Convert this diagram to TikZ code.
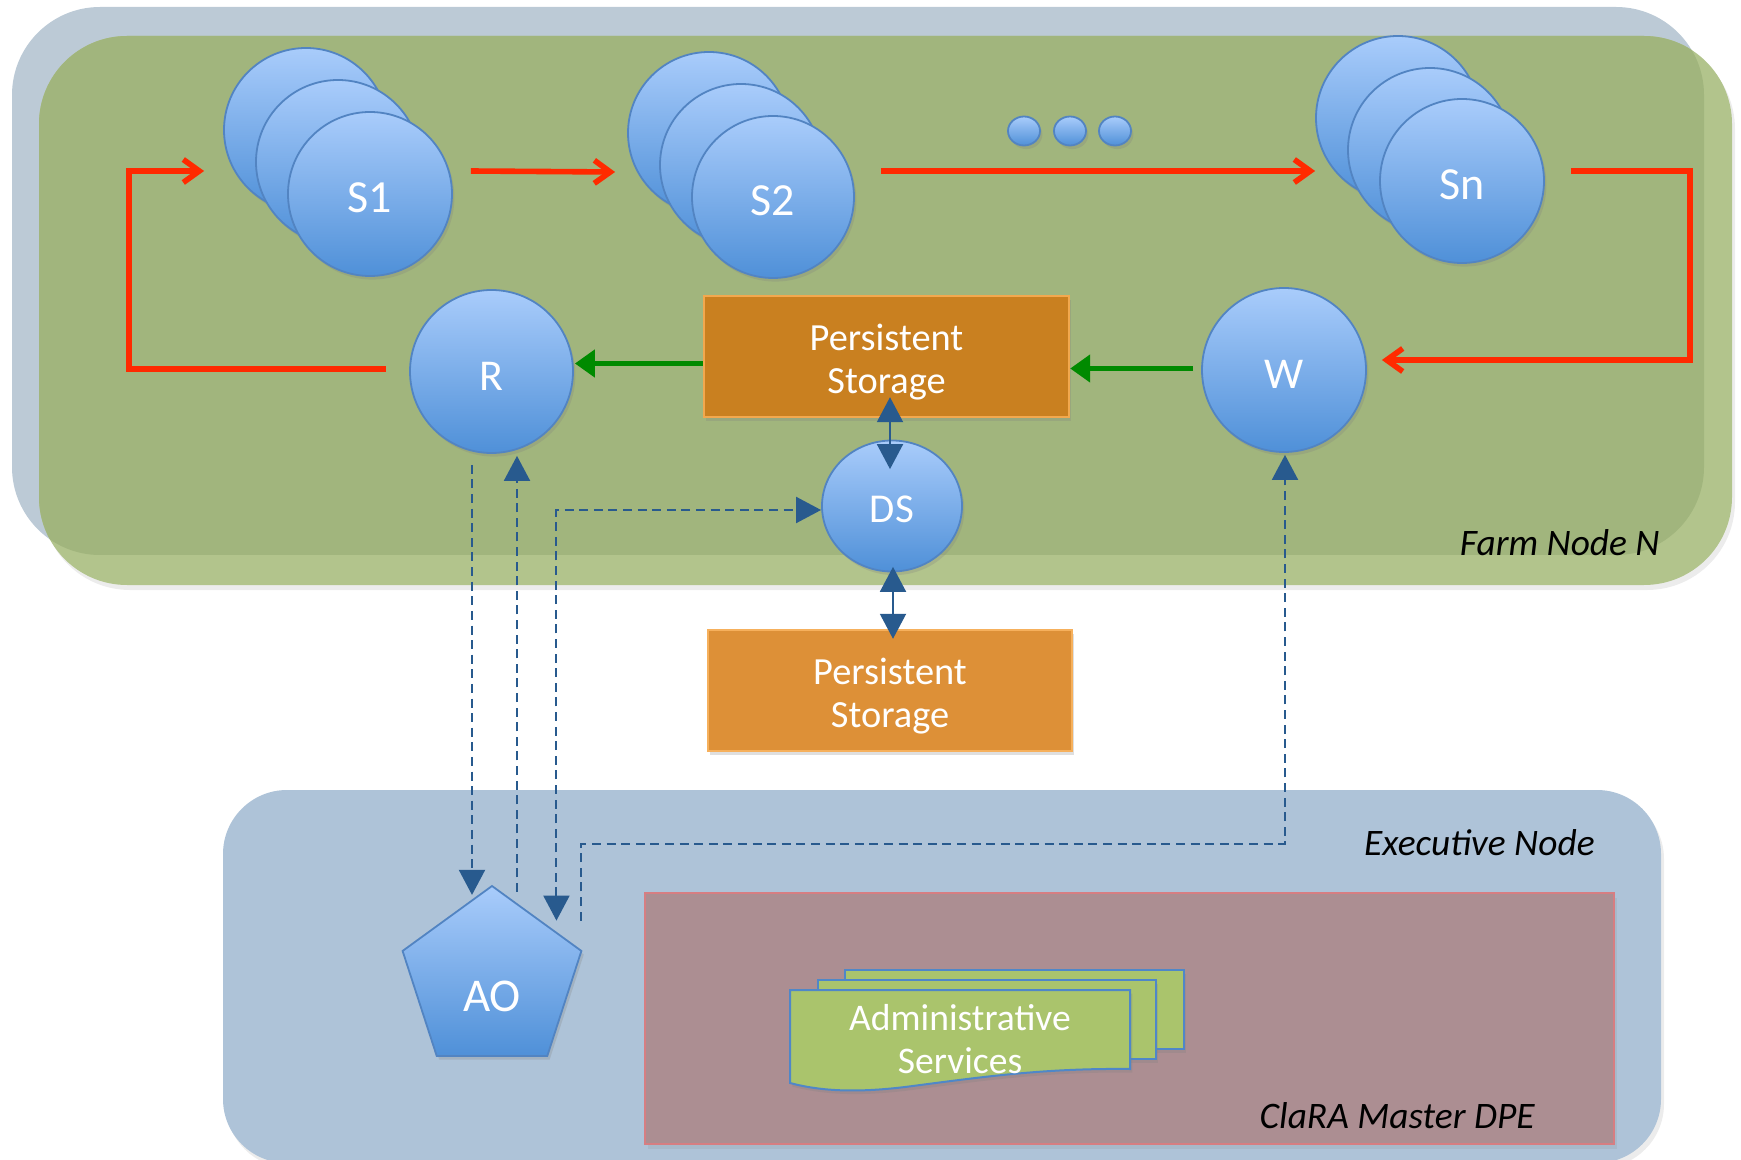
\documentclass[tikz,border=0pt]{standalone}
\usepackage{fontspec}
\setmainfont{Carlito}
\usetikzlibrary{arrows.meta,calc,shadows,shapes.geometric}

% palette
\definecolor{hostgray}{HTML}{BCCAD6}
\definecolor{farmgreen}{HTML}{B2C48C}
\definecolor{farmdeep}{HTML}{A1B57D}
\definecolor{execblue}{HTML}{AEC3D8}
\definecolor{dpefill}{HTML}{AC8E92}
\definecolor{dpeline}{HTML}{D67E82}
\definecolor{balltop}{HTML}{A9CCFB}
\definecolor{ballbot}{HTML}{4F90D8}
\definecolor{ballline}{HTML}{5284C2}
\definecolor{storeA}{HTML}{C98020}
\definecolor{storeAline}{HTML}{F2A84E}
\definecolor{storeB}{HTML}{DD9037}
\definecolor{storeBline}{HTML}{F6B05C}
\definecolor{adminfill}{HTML}{AAC46C}
\definecolor{adminline}{HTML}{4F87C8}
\definecolor{flowred}{HTML}{FF2A00}
\definecolor{flowgreen}{HTML}{008A00}
\definecolor{ctrlblue}{HTML}{285A8E}

\begin{document}
\begin{tikzpicture}[x=0.5pt,y=-0.5pt,
  softshadow/.style={drop shadow={shadow xshift=1.2pt,shadow yshift=-1.8pt,opacity=0.25}},
  panelshadow/.style={drop shadow={shadow xshift=1.5pt,shadow yshift=-2.5pt,opacity=0.15}},
  ball/.style={circle,draw=ballline,line width=0.9pt,top color=balltop,bottom color=ballbot,
    inner sep=0pt,text=white,text height=19pt,text depth=0pt,softshadow},
  dot/.style={ellipse,draw=ballline,line width=0.9pt,top color=balltop,bottom color=ballbot,
    inner sep=0pt,minimum width=16pt,minimum height=14.5pt,softshadow},
  store/.style={rectangle,line width=1.2pt,inner sep=0pt,text=white,align=center,
    font=\fontsize{19.2}{21.5}\selectfont,softshadow},
  sheet/.style={fill=adminfill,draw=adminline,line width=1pt,softshadow},
  paneltext/.style={font=\fontsize{18.7}{22}\selectfont\itshape,text=black,inner sep=0pt},
  redflow/.style={draw=flowred,line width=2.8pt,-{Straight Barb[length=8pt,width=11.5pt]}},
  greenflow/.style={draw=flowgreen,line width=2.4pt,-{Triangle[length=10pt,width=13.5pt]}},
  linkboth/.style={draw=ctrlblue,line width=1pt,
    {Triangle[length=12.5pt,width=13pt]}-{Triangle[length=12.5pt,width=13pt]}},
  ctrl/.style={draw=ctrlblue,line width=1pt,dash pattern=on 4.5pt off 2.8pt},
  ctrlarrow/.style={ctrl,-{Triangle[length=12.5pt,width=13pt]}},
  ctrlboth/.style={ctrl,{Triangle[length=12.5pt,width=13pt]}-{Triangle[length=12.5pt,width=13pt]}}
]
\useasboundingbox (0,0) rectangle (1741,1160);

% ---------- Farm node: grey-blue host panel under a green overlay ----------
\fill[hostgray,rounded corners=44pt] (12,7) rectangle (1704,555);
\fill[farmgreen,rounded corners=44pt,panelshadow] (39,36) rectangle (1732,585);
\begin{scope}
  \clip[rounded corners=44pt] (12,7) rectangle (1704,555);
  \fill[farmdeep,rounded corners=44pt] (39,36) rectangle (1732,585);
\end{scope}
\node[paneltext,anchor=base east] (farmlbl) at (1660,556) {Farm Node N};

% ---------- Executive node ----------
\fill[execblue,rounded corners=32pt,panelshadow] (223,790) rectangle (1661,1163);
\node[paneltext,anchor=base east] (execlbl) at (1595,855) {Executive Node};
\node[rectangle,fill=dpefill,draw=dpeline,line width=0.8pt,inner sep=0pt,
      minimum width=484.5pt,minimum height=125.5pt,panelshadow] (dpe) at (1129.5,1018.5) {};
\node[paneltext,anchor=base east] (dpelbl) at (1535,1128) {ClaRA Master DPE};

% ---------- service chain ----------
\node[ball,minimum size=82pt] (s1a) at (306,130) {};
\node[ball,minimum size=82pt] (s1b) at (338,162) {};
\node[ball,minimum size=82pt,font=\fontsize{23}{23}\selectfont] (s1) at (370,194) {S1};

\node[ball,minimum size=81pt] (s2a) at (709,133) {};
\node[ball,minimum size=81pt] (s2b) at (741,165) {};
\node[ball,minimum size=81pt,font=\fontsize{23}{23}\selectfont] (s2) at (773,197) {S2};

\node[dot] (dot1) at (1024,131) {};
\node[dot] (dot2) at (1070,131) {};
\node[dot] (dot3) at (1115,131) {};

\node[ball,minimum size=82pt] (sna) at (1398,118) {};
\node[ball,minimum size=82pt] (snb) at (1430,150) {};
\node[ball,minimum size=82pt,font=\fontsize{23}{23}\selectfont] (sn) at (1462,181) {Sn};

\node[ball,minimum size=81.5pt,font=\fontsize{22}{22}\selectfont] (r) at (491.5,371.5) {R};
\node[ball,minimum size=82pt,font=\fontsize{22}{22}\selectfont] (w) at (1284,370) {W};
\node[ball,shape=ellipse,minimum width=70pt,minimum height=65.5pt,text height=17pt,
      font=\fontsize{20.5}{20.5}\selectfont] (ds) at (892,506) {DS};

\node[store,fill=storeA,draw=storeAline,minimum width=182.5pt,minimum height=60.5pt]
  (ps1) at (886.5,356.5) {\rule{0pt}{19pt}Persistent\\Storage};
\node[store,fill=storeB,draw=storeBline,minimum width=182pt,minimum height=60.5pt]
  (ps2) at (890,690.5) {\rule{0pt}{19pt}Persistent\\Storage};

\node[ball,shape=regular polygon,regular polygon sides=5,minimum size=94pt,
      label={[text=white,font=\fontsize{23.5}{23.5}\selectfont,yshift=-8pt]center:AO}]
  (ao) at (492,980) {};

% ---------- administrative services (stacked documents) ----------
\path[sheet] (845,970) rectangle (1184,1049);
\path[sheet] (818,980) rectangle (1156,1059);
\path[sheet] (790,990) -- (1130,990) -- (1130,1069)
  .. controls (1040,1068) and (975,1078) .. (905,1087)
  .. controls (855,1093) and (820,1091) .. (790,1083) -- cycle;
\node[text=white,align=center,inner sep=0pt,font=\fontsize{18.8}{21.5}\selectfont]
  (admin) at (960,1039) {Administrative\\Services};

% ---------- data flow through the chain ----------
\draw[redflow] ($(s1.east)+(18,-23)$) -- ($(s2a.west)+(-12,39)$);
\draw[redflow] ($(s2.east)+(26,-26)$) -- ($(sna.west)+(0,53)$);
\draw[redflow] ($(sn.east)+(26,-10)$) -- ++(119,0) |- ($(w.east)+(15,-10)$);
\draw[redflow] ($(r.west)+(-23,-2.5)$) -- ++(-257,0) |- ($(s1a.west)+(-19,41)$);

\draw[greenflow] ($(ps1.west)+(0,7)$) -- ($(r.east)+(1,-8)$);
\draw[greenflow] ($(w.west)+(-8,-1.5)$) -- ($(ps1.east)+(0,12)$);

\draw[linkboth] ($(ps1.south)+(3.5,-21)$) -- ($(ds.north)+(-2,29.5)$);
\draw[linkboth] ($(ds.south)+(1,-5.5)$) -- ($(ps2.north)+(3,10)$);

% ---------- control links to the orchestrator ----------
\draw[ctrlarrow] ($(r.south)+(-19.5,11)$) -- ($(ao.corner 1)+(-20,10)$);
\draw[ctrlarrow] ($(ao.corner 1)+(25,7)$) -- ($(r.south)+(25.5,2)$);
\draw[ctrlboth] ($(ao.corner 5)+(-26,-30)$) |- ($(ds.west)+(0,4)$);
\draw[ctrlarrow] ($(ao.corner 5)+(-1,-30)$) -- ++(0,-77) -| ($(w.south)+(1,2)$);
\end{tikzpicture}
\end{document}
